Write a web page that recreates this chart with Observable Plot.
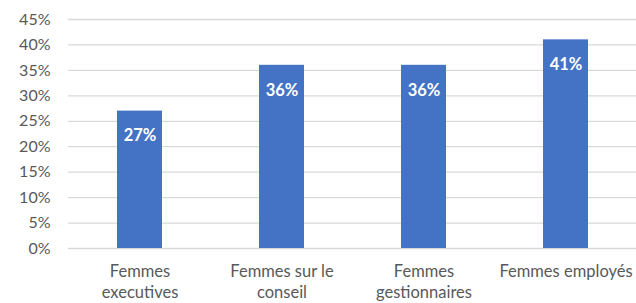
<!DOCTYPE html>
<html>
<head>
<meta charset="utf-8">
<script src="https://cdn.jsdelivr.net/npm/d3@7"></script>
<script src="https://cdn.jsdelivr.net/npm/@observablehq/plot@0.6"></script>
<style>
  html, body { margin: 0; padding: 0; background: #fff; }
  #chart svg { display: block; }
</style>
</head>
<body>
<div id="chart"></div>
<script>
const categories = ["Femmes executives", "Femmes sur le conseil", "Femmes gestionnaires", "Femmes employés"];
const tickLabels = ["Femmes\nexecutives", "Femmes sur le\nconseil", "Femmes\ngestionnaires", "Femmes employés"];
const values = [0.27, 0.36, 0.36, 0.41];
const yTicks = [0, 0.05, 0.10, 0.15, 0.20, 0.25, 0.30, 0.35, 0.40, 0.45];

const data = categories.map((c, i) => ({category: c, value: values[i]}));
const labelOf = new Map(categories.map((c, i) => [c, tickLabels[i]]));

const chart = Plot.plot({
  width: 636,
  height: 303,
  marginLeft: 68,
  marginRight: 0,
  marginTop: 19,
  marginBottom: 55,
  style: {fontFamily: "Lato, 'Open Sans', sans-serif", fontSize: "16px", color: "#595959", background: "#fff"},
  x: {domain: categories, paddingInner: 0.685, paddingOuter: 0.3425, align: 0.5, label: null},
  y: {domain: [0, 0.45], label: null},
  marks: [
    Plot.ruleY(yTicks, {stroke: "#d9d9d9", strokeWidth: 1.3, strokeOpacity: 1}),
    Plot.barY(data, {x: "category", y: "value", fill: "#4472c4"}),
    Plot.text(data, {x: "category", y: "value", text: d => Math.round(d.value * 100) + "%", dy: 25, fill: "white", fontWeight: "bold", fontSize: 16.5}),
    Plot.axisY({ticks: yTicks, tickFormat: d => Math.round(d * 100) + "%", tickSize: 0, tickPadding: 18, fontSize: 16, fill: "#595959"}),
    Plot.axisX({tickFormat: d => labelOf.get(d), tickSize: 0, tickPadding: 13, fontSize: 16.5, fill: "#595959", lineHeight: 1.3})
  ]
});
document.getElementById("chart").appendChild(chart);
</script>
</body>
</html>
